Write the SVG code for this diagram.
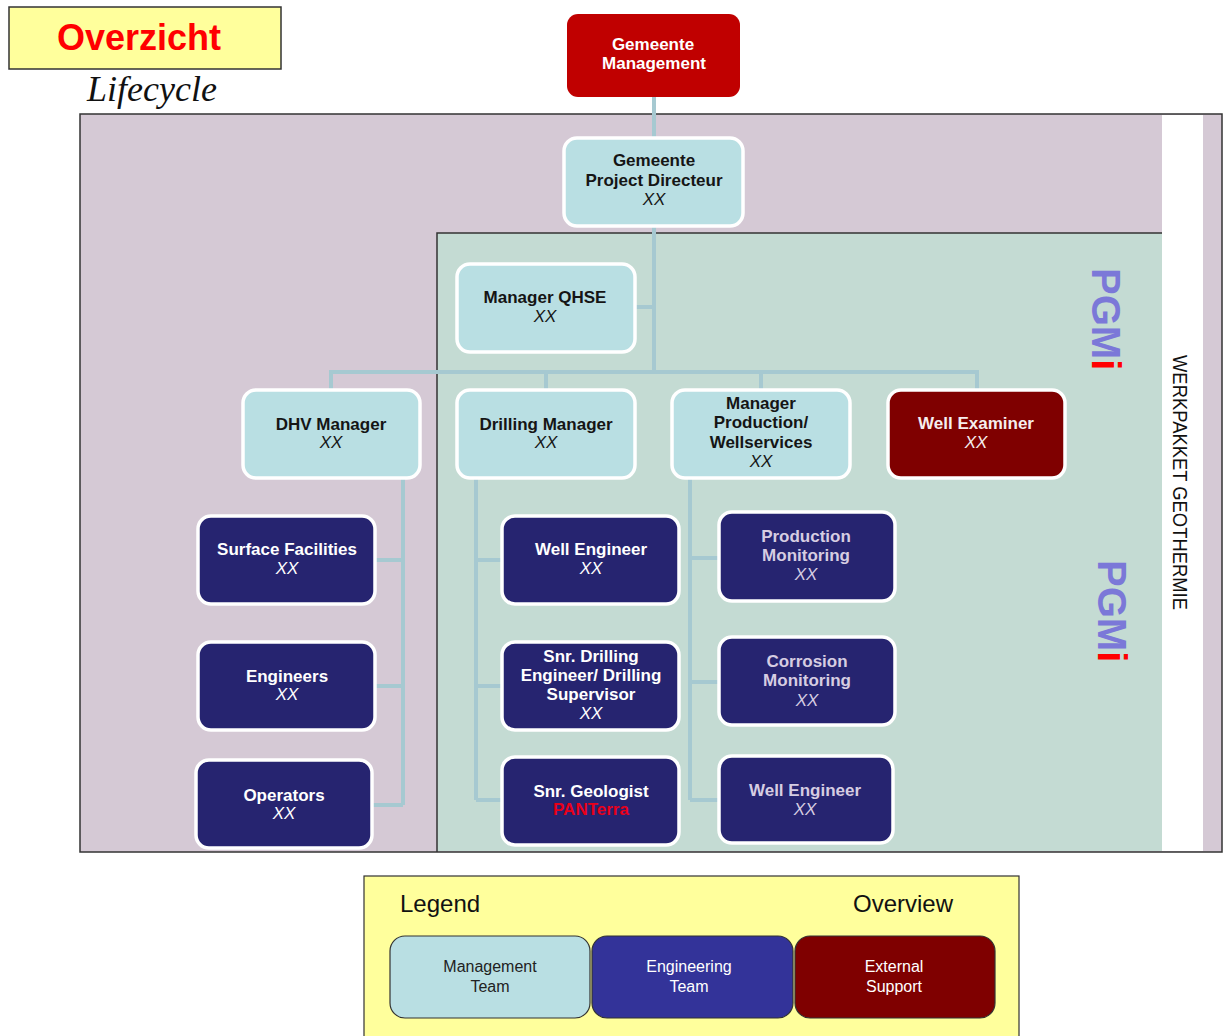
<svg xmlns="http://www.w3.org/2000/svg" width="1226" height="1036" viewBox="0 0 1226 1036">
<style>
text{font-family:"Liberation Sans",Arial,sans-serif;text-anchor:middle}
.t{font-size:17px;font-weight:bold}
.x{font-size:17px;font-style:italic}
.mg rect{fill:#b9dfe3;stroke:#fff;stroke-width:3.5}
.mg text{fill:#151515}
.en rect{fill:#262470;stroke:#fff;stroke-width:3.5}
.en text{fill:#ffffff}
.enr text{fill:#d6cde2}
.ex rect{fill:#7f0000;stroke:#fff;stroke-width:3.5}
.ex text{fill:#f6eeee}
.conn{stroke:#a6c9d1;stroke-width:4;fill:none}
.pgm{font-size:40px;font-weight:bold;text-anchor:start}
.lg rect{stroke:#333;stroke-width:1.2}
.lg text{font-size:16px}
</style>
<rect x="0" y="0" width="1226" height="1036" fill="#ffffff"/>
<g id="title">
<rect x="9" y="7" width="272" height="62" fill="#ffff9c" stroke="#333" stroke-width="1.5"/>
<text x="139" y="50" style="font-size:36px;font-weight:bold;fill:#ff0000">Overzicht</text>
<text x="87" y="101" style="font-family:'Liberation Serif','Times New Roman',serif;font-size:36px;font-style:italic;text-anchor:start;fill:#111">Lifecycle</text>
</g>
<g id="frames">
<rect x="80" y="114" width="1142" height="738" fill="#d5c9d5" stroke="#333" stroke-width="1.5"/>
<rect x="1162" y="115" width="41" height="736" fill="#ffffff"/>
<rect x="437" y="233" width="725" height="618" fill="#c4dbd3"/>
<path d="M437 852 V233 H1162" stroke="#333" stroke-width="1.5" fill="none"/>
</g>
<g id="connectors" class="conn">
<path d="M654 97 V138"/>
<path d="M654 226 V372"/>
<path d="M636 307 H654"/>
<path d="M331 390 V372 H977 V390"/>
<path d="M546 372 V390"/>
<path d="M761 372 V390"/>
<path d="M403 478 V805"/>
<path d="M375 560 H403 M375 686 H403 M372 805 H403"/>
<path d="M476 478 V800"/>
<path d="M476 560 H503 M476 686 H503 M476 800 H503"/>
<path d="M690 478 V800"/>
<path d="M690 558 H720 M690 682 H720 M690 800 H720"/>
</g>
<g id="gemeente-management">
<rect x="567" y="14" width="173" height="83" rx="11" fill="#c00000"/>
<text class="t" x="653" y="50" fill="#fff">Gemeente</text>
<text class="t" x="654" y="69" fill="#fff">Management</text>
</g>
<g id="project-directeur" class="mg">
<rect x="564" y="138" width="179" height="88" rx="13"/>
<text class="t" x="654" y="166">Gemeente</text>
<text class="t" x="654" y="186">Project Directeur</text>
<text class="x" x="654" y="205">XX</text>
</g>
<g id="manager-qhse" class="mg">
<rect x="457" y="264" width="178" height="88" rx="13"/>
<text class="t" x="545" y="303">Manager QHSE</text>
<text class="x" x="545" y="322">XX</text>
</g>
<g id="dhv-manager" class="mg">
<rect x="243" y="390" width="177" height="88" rx="13"/>
<text class="t" x="331" y="430">DHV Manager</text>
<text class="x" x="331" y="448">XX</text>
</g>
<g id="drilling-manager" class="mg">
<rect x="457" y="390" width="178" height="88" rx="13"/>
<text class="t" x="546" y="430">Drilling Manager</text>
<text class="x" x="546" y="448">XX</text>
</g>
<g id="manager-production" class="mg">
<rect x="672" y="390" width="178" height="88" rx="13"/>
<text class="t" x="761" y="409">Manager</text>
<text class="t" x="761" y="428">Production/</text>
<text class="t" x="761" y="448">Wellservices</text>
<text class="x" x="761" y="467">XX</text>
</g>
<g id="well-examiner" class="ex">
<rect x="888" y="390" width="177" height="88" rx="13"/>
<text class="t" x="976" y="429">Well Examiner</text>
<text class="x" x="976" y="448">XX</text>
</g>
<g id="surface-facilities" class="en">
<rect x="198" y="516" width="177" height="88" rx="13"/>
<text class="t" x="287" y="555">Surface Facilities</text>
<text class="x" x="287" y="574">XX</text>
</g>
<g id="engineers" class="en">
<rect x="198" y="642" width="177" height="88" rx="13"/>
<text class="t" x="287" y="682">Engineers</text>
<text class="x" x="287" y="700">XX</text>
</g>
<g id="operators" class="en">
<rect x="196" y="760" width="176" height="88" rx="13"/>
<text class="t" x="284" y="801">Operators</text>
<text class="x" x="284" y="819">XX</text>
</g>
<g id="well-engineer-1" class="en">
<rect x="502" y="516" width="177" height="88" rx="13"/>
<text class="t" x="591" y="555">Well Engineer</text>
<text class="x" x="591" y="574">XX</text>
</g>
<g id="snr-drilling" class="en">
<rect x="502" y="642" width="177" height="88" rx="13"/>
<text class="t" x="591" y="662">Snr. Drilling</text>
<text class="t" x="591" y="681">Engineer/ Drilling</text>
<text class="t" x="591" y="700">Supervisor</text>
<text class="x" x="591" y="719">XX</text>
</g>
<g id="snr-geologist" class="en">
<rect x="502" y="757" width="177" height="88" rx="13"/>
<text class="t" x="591" y="797">Snr. Geologist</text>
<text class="t" x="591" y="815" fill="#e8001a" style="fill:#e8001a">PANTerra</text>
</g>
<g id="production-monitoring" class="en enr">
<rect x="719" y="512" width="176" height="89" rx="13"/>
<text class="t" x="806" y="542">Production</text>
<text class="t" x="806" y="561">Monitoring</text>
<text class="x" x="806" y="580">XX</text>
</g>
<g id="corrosion-monitoring" class="en enr">
<rect x="719" y="637" width="176" height="88" rx="13"/>
<text class="t" x="807" y="667">Corrosion</text>
<text class="t" x="807" y="686">Monitoring</text>
<text class="x" x="807" y="706">XX</text>
</g>
<g id="well-engineer-2" class="en enr">
<rect x="719" y="756" width="174" height="87" rx="13"/>
<text class="t" x="805" y="796">Well Engineer</text>
<text class="x" x="805" y="815">XX</text>
</g>
<g id="labels">
<text class="pgm" transform="rotate(90 1092 268)" x="1092" y="268"><tspan fill="#7b78d8">PGM</tspan><tspan fill="#ff0000">i</tspan></text>
<text class="pgm" transform="rotate(90 1098 560)" x="1098" y="560"><tspan fill="#7b78d8">PGM</tspan><tspan fill="#ff0000">i</tspan></text>
<text transform="rotate(90 1173 355)" x="1173" y="355" textLength="255" lengthAdjust="spacingAndGlyphs" style="font-size:20px;text-anchor:start;fill:#111">WERKPAKKET  GEOTHERMIE</text>
</g>
<g id="legend" class="lg">
<rect x="364" y="876" width="655" height="170" fill="#ffff9c" stroke="#333" stroke-width="1.5"/>
<text x="400" y="912" style="font-size:24px;text-anchor:start;fill:#111">Legend</text>
<text x="853" y="912" style="font-size:24px;text-anchor:start;fill:#111">Overview</text>
<rect x="390" y="936" width="200" height="82" rx="15" fill="#b9dfe3"/>
<text x="490" y="972" fill="#222">Management</text>
<text x="490" y="992" fill="#222">Team</text>
<rect x="592" y="936" width="201" height="82" rx="15" fill="#333399"/>
<text x="689" y="972" fill="#fff">Engineering</text>
<text x="689" y="992" fill="#fff">Team</text>
<rect x="795" y="936" width="200" height="82" rx="15" fill="#7f0000"/>
<text x="894" y="972" fill="#fff">External</text>
<text x="894" y="992" fill="#fff">Support</text>
</g>
</svg>
